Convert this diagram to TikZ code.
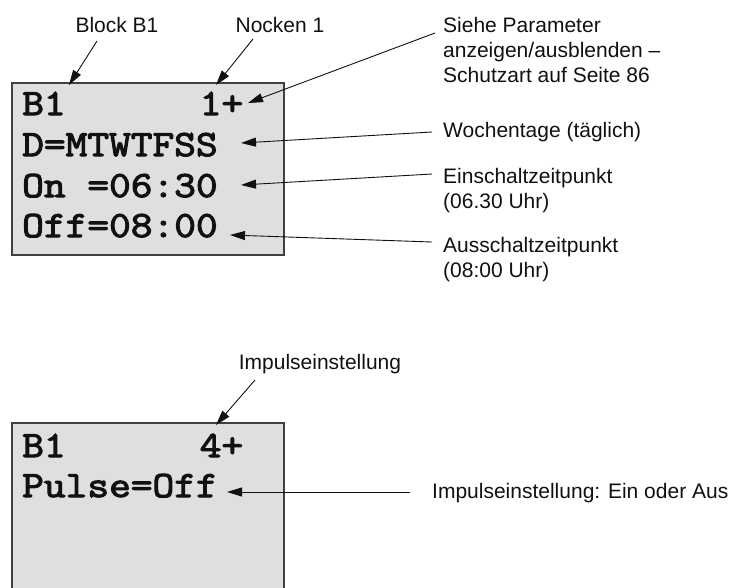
\documentclass[tikz,border=0pt]{standalone}
\usepackage{fontspec}
\setmainfont{Liberation Sans}
\newfontfamily\lcdfont{Latin Modern Mono}[FakeStretch=1.14,FakeBold=3]
\usetikzlibrary{arrows.meta}
\definecolor{Ink}{HTML}{111111}
\definecolor{Frame}{HTML}{404040}
\definecolor{Screen}{HTML}{DFDFDF}
\tikzset{
  screen/.style={draw=Frame,line width=1.8pt,fill=Screen},
  lcd/.style={font=\lcdfont\fontsize{37}{41}\selectfont,anchor=base west,inner sep=0pt,text=Ink},
  note/.style={font=\fontsize{21}{25}\selectfont,anchor=base west,inner sep=0pt,align=left,text=Ink},
  pointer/.style={-{Triangle[length=15pt,width=9pt]},line width=0.9pt,draw=Ink}
}
\begin{document}
\begin{tikzpicture}[x=1pt,y=-1pt]
  \useasboundingbox (0,0) rectangle (730,587);

  % Display 1: cam settings
  \draw[screen] (12,83) rectangle (284,255);
  \node[lcd] (blk) at (22,115) {B1};
  \node[lcd] (cam) at (199.6,115) {1+};
  \node[lcd] (days) at (22,156) {D=MTWTFSS};
  \node[lcd] (on) at (22,197) {On =06:30};
  \node[lcd] (off) at (22,237) {Off=08:00};

  \node[note,anchor=base] (blkNote) at (117,32) {Block B1};
  \node[note,anchor=base] (camNote) at (280,32) {Nocken 1};
  \node[note] (protNote) at (443,82) {Siehe Parameter\\anzeigen/ausblenden –\\Schutzart auf Seite 86};
  \node[note] (daysNote) at (443,137) {Wochentage (täglich)};
  \node[note] (onNote) at (443,208) {Einschaltzeitpunkt\\(06.30 Uhr)};
  \node[note] (offNote) at (443,277) {Ausschaltzeitpunkt\\(08:00 Uhr)};

  \coordinate (blkFrom) at (97,41);   \coordinate (blkTo) at (69,85);
  \coordinate (camFrom) at (253,39);  \coordinate (camTo) at (216,85);
  \coordinate (protFrom) at (435,33); \coordinate (protTo) at (248,103);
  \coordinate (daysFrom) at (432,132); \coordinate (daysTo) at (241,143);
  \coordinate (onFrom) at (432,174);  \coordinate (onTo) at (241,185);
  \coordinate (offFrom) at (432,242); \coordinate (offTo) at (230,235);
  \foreach \p in {blk,cam,prot,days,on,off}{\draw[pointer] (\p From)--(\p To);}

  % Display 2: pulse setting
  \draw[screen] (12,423) rectangle (284,620);
  \node[lcd] (blkB) at (22,457) {B1};
  \node[lcd] (camB) at (199.6,457) {4+};
  \node[lcd] (pulse) at (22,497) {Pulse=Off};

  \node[note,anchor=base] (stepNote) at (320,369) {Impulseinstellung};
  \node[note] (pulseNote) at (432,498) {Impulseinstellung: Ein oder Aus};

  \coordinate (stepFrom) at (255,380); \coordinate (stepTo) at (216,425);
  \coordinate (pulseFrom) at (410,492); \coordinate (pulseTo) at (227,492);
  \foreach \p in {step,pulse}{\draw[pointer] (\p From)--(\p To);}
\end{tikzpicture}
\end{document}
